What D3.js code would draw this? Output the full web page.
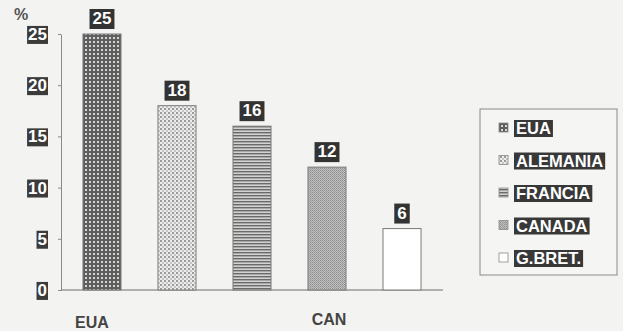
<!DOCTYPE html>
<html>
<head>
<meta charset="utf-8">
<script src="https://cdn.jsdelivr.net/npm/d3@7/dist/d3.min.js"></script>
<style>
  html, body { margin: 0; padding: 0; background: #f3f3f1; }
  svg { display: block; font-family: "Liberation Sans", Arial, sans-serif; }
</style>
</head>
<body>
<svg id="chart" width="623" height="331"></svg>
<script>
// Market share (%) by country
const countries = ["EUA", "ALEMANIA", "FRANCIA", "CANADA", "G.BRET."];
const shares = [25, 18, 16, 12, 6];
const xTickLabels = ["EUA", "", "", "CAN", ""];
const yTicks = [0, 5, 10, 15, 20, 25];
const patternIds = ["pEUA", "pALE", "pFRA", "pCAN", "pGBR"];

const svg = d3.select("#chart");
svg.append("rect").attr("width", 623).attr("height", 331).attr("fill", "#f3f3f1");

// Fill patterns for each bar
const defs = svg.append("defs");
// dense check
let p = defs.append("pattern").attr("id", "pEUA").attr("patternUnits", "userSpaceOnUse").attr("width", 4).attr("height", 4);
p.append("rect").attr("width", 4).attr("height", 4).attr("fill", "#5e5e5e");
p.append("rect").attr("x", 1).attr("y", 1).attr("width", 2).attr("height", 2).attr("fill", "#d4d4d4");
// light dots
p = defs.append("pattern").attr("id", "pALE").attr("patternUnits", "userSpaceOnUse").attr("width", 4).attr("height", 4);
p.append("rect").attr("width", 4).attr("height", 4).attr("fill", "#ececec");
p.append("rect").attr("width", 2).attr("height", 2).attr("fill", "#9a9a9a");
p.append("rect").attr("x", 2).attr("y", 2).attr("width", 2).attr("height", 2).attr("fill", "#c4c4c4");
// horizontal lines
p = defs.append("pattern").attr("id", "pFRA").attr("patternUnits", "userSpaceOnUse").attr("width", 4).attr("height", 3);
p.append("rect").attr("width", 4).attr("height", 3).attr("fill", "#d2d2d2");
p.append("rect").attr("width", 4).attr("height", 1.4).attr("fill", "#6a6a6a");
// fine stipple grey
p = defs.append("pattern").attr("id", "pCAN").attr("patternUnits", "userSpaceOnUse").attr("width", 2).attr("height", 2);
p.append("rect").attr("width", 2).attr("height", 2).attr("fill", "#c0c0c0");
p.append("rect").attr("width", 1).attr("height", 1).attr("fill", "#8e8e8e");
p.append("rect").attr("x", 1).attr("y", 1).attr("width", 1).attr("height", 1).attr("fill", "#9e9e9e");
// plain white
p = defs.append("pattern").attr("id", "pGBR").attr("patternUnits", "userSpaceOnUse").attr("width", 4).attr("height", 4);
p.append("rect").attr("width", 4).attr("height", 4).attr("fill", "#ffffff");

const x = d3.scaleBand().domain(countries).range([61, 443]).paddingInner(0.493).paddingOuter(0.293);
const y = d3.scaleLinear().domain([0, 25]).range([290, 34]);

// Y axis
const yAxis = svg.append("g").attr("transform", "translate(61,0)")
  .call(d3.axisLeft(y).tickValues(yTicks).tickSize(3).tickPadding(11).tickSizeOuter(0));
yAxis.select(".domain").attr("stroke", "#8a8a8a").attr("stroke-width", 1);
yAxis.selectAll(".tick line").attr("stroke", "#8a8a8a");
yAxis.selectAll(".tick text")
  .attr("fill", "#ffffff").attr("font-size", 17).attr("font-weight", "bold");
yAxis.selectAll(".tick").each(function () {
  const t = d3.select(this).select("text");
  const b = t.node().getBBox();
  d3.select(this).insert("rect", "text")
    .attr("x", b.x - 1).attr("y", b.y + 1).attr("width", b.width + 2).attr("height", b.height - 1)
    .attr("fill", "#3b3b3b");
});

// Baseline
svg.append("line").attr("x1", 61).attr("x2", 443).attr("y1", y(0)).attr("y2", y(0))
  .attr("stroke", "#6f6f6f").attr("stroke-width", 1.2);

// "%" unit label
svg.append("text").attr("x", 14).attr("y", 20).attr("font-size", 16).attr("font-weight", "bold")
  .attr("fill", "#555").text("%");

// Bars
svg.selectAll("rect.bar").data(countries).join("rect").attr("class", "bar")
  .attr("x", d => x(d)).attr("width", x.bandwidth())
  .attr("y", (d, i) => y(shares[i])).attr("height", (d, i) => y(0) - y(shares[i]))
  .attr("fill", (d, i) => `url(#${patternIds[i]})`)
  .attr("stroke", "#7a7a7a").attr("stroke-width", 1);

// Value labels in dark boxes
const vl = svg.selectAll("g.vlab").data(countries).join("g").attr("class", "vlab");
vl.append("text")
  .attr("x", d => x(d) + x.bandwidth() / 2)
  .attr("y", (d, i) => y(shares[i]) - 10)
  .attr("text-anchor", "middle").attr("font-size", 17).attr("font-weight", "bold")
  .attr("fill", "#ffffff").text((d, i) => shares[i]);
vl.each(function () {
  const t = d3.select(this).select("text");
  const b = t.node().getBBox();
  d3.select(this).insert("rect", "text")
    .attr("x", b.x - 3).attr("y", b.y).attr("width", b.width + 6).attr("height", b.height + 1)
    .attr("fill", "#333333");
});

// Category labels
svg.selectAll("text.xlab").data(countries).join("text").attr("class", "xlab")
  .attr("x", (d, i) => x(d) + x.bandwidth() / 2 + (i === 0 ? -10 : 2))
  .attr("y", (d, i) => i === 0 ? 328 : 325)
  .attr("text-anchor", "middle").attr("font-size", 16).attr("font-weight", "bold")
  .attr("fill", "#444").text((d, i) => xTickLabels[i]);

// Legend
const legend = svg.append("g");
legend.append("rect").attr("x", 480).attr("y", 109).attr("width", 137).attr("height", 166)
  .attr("fill", "#f5f5f3").attr("stroke", "#8a8a8a").attr("stroke-width", 1);
const ly = d3.scalePoint().domain(countries).range([128, 258]);
const items = legend.selectAll("g.item").data(countries).join("g").attr("class", "item");
items.append("rect").attr("x", 499).attr("y", d => ly(d) - 5).attr("width", 9).attr("height", 9)
  .attr("fill", (d, i) => `url(#${patternIds[i]})`).attr("stroke", "#8a8a8a").attr("stroke-width", 0.8);
items.append("text").attr("x", 516).attr("y", d => ly(d) + 6)
  .attr("font-size", 16.5).attr("font-weight", "bold").attr("fill", "#ffffff").text(d => d);
items.each(function () {
  const t = d3.select(this).select("text");
  const b = t.node().getBBox();
  d3.select(this).insert("rect", "text")
    .attr("x", b.x - 2).attr("y", b.y + 1).attr("width", b.width + 4).attr("height", b.height - 1)
    .attr("fill", "#383838");
});
</script>
</body>
</html>
